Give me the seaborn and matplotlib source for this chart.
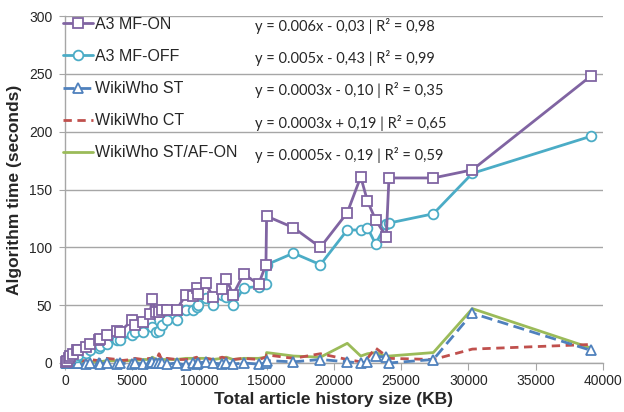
import matplotlib
matplotlib.use("Agg")
import matplotlib.pyplot as plt
import seaborn as sns
import pandas as pd

# shared x values: total article history size (KB)
size_kb = [50, 150, 300, 400, 600, 900, 1000, 1600, 1900, 2500, 2600, 3100, 3900, 4100,
           5000, 5200, 5800, 6300, 6500, 6800, 7000, 7200, 7600, 8300, 9000, 9500, 9800,
           9900, 10500, 11000, 11700, 12000, 12500, 13300, 14400, 14950, 15000, 17000,
           19000, 21000, 22000, 22500, 23100, 23900, 24100, 27400, 30300, 39100]

a3_mf_on = [1, 2, 4, 6, 8, 11, 11, 14, 16, 20, 21, 24, 28, 27,
            37, 33, 35, 42, 55, 44, 44, 46, 46, 46, 59, 58, 65,
            60, 69, 57, 64, 73, 59, 77, 68, 85, 127, 117,
            100, 130, 161, 140, 124, 109, 160, 160, 167, 248]

a3_mf_off = [1, 2, 3, 4, 5, 5, 7, 9, 11, 13, 15, 16, 20, 20,
             24, 27, 27, 35, 31, 27, 28, 33, 37, 37, 46, 46, 48,
             50, 56, 50, 59, 57, 50, 65, 66, 68, 85, 95,
             85, 115, 115, 117, 103, 120, 121, 129, 164, 196]

wikiwho_st = [0, 0, 0, 0, 0, 0, 0, -1, 0, 0, -1, 0, -1, 0,
              -1, 0, -1, 0, 1, 0, 0, 0, -1, 0, -2, 0, -1,
              0, 1, 0, -1, 0, -1, 0, -1, 0, 2, 1,
              3, 1, 0, 1, 6, 5, 0, 3, 43, 11]

wikiwho_ct = [0.5, 0.5, 1, 1, 1, 1.5, 2, 2, 3, 2, 3, 4, 3, 2,
              3, 4, 3, 4, 3, 2, 8, 3, 4, 3, 3, 4, 5,
              3, 4, 3, 5, 4, 3, 4, 3, 5, 7, 4,
              8, 3, 1, 4, 13, 6, 4, 3, 12, 16]

wikiwho_st_af = [0.3, 0.3, 0.5, 0.5, 1, 1, 1, 1, 1, 1, 1, 2, 2, 2,
                 2, 2, 3, 3, 5, 3, 3, 3, 3, 3, 4, 4, 4,
                 4, 4, 3, 4, 5, 3, 4, 4, 5, 9, 6,
                 5, 17, 6, 8, 9, 6, 6, 9, 47, 13]

labels = ["A3 MF-ON", "A3 MF-OFF", "WikiWho ST", "WikiWho CT", "WikiWho ST/AF-ON"]
equations = ["y = 0.006x - 0,03 | R\u00b2 = 0,98",
             "y = 0.005x - 0,43 | R\u00b2 = 0,99",
             "y = 0.0003x - 0,10 | R\u00b2 = 0,35",
             "y = 0.0003x + 0,19 | R\u00b2 = 0,65",
             "y = 0.0005x - 0,19 | R\u00b2 = 0,59"]

df = pd.DataFrame({"size": size_kb, labels[0]: a3_mf_on, labels[1]: a3_mf_off,
                   labels[2]: wikiwho_st, labels[3]: wikiwho_ct, labels[4]: wikiwho_st_af})

sns.set_style("white")
plt.rcParams['font.family'] = ['Liberation Sans', 'DejaVu Sans']

fig = plt.figure(figsize=(6.24, 4.12), dpi=100)
ax = fig.add_axes([0.104, 0.119, 0.862, 0.842])

styles = [
    dict(color="#8064A2", marker="s", ls="-", ms=7),
    dict(color="#4BACC6", marker="o", ls="-", ms=7),
    dict(color="#4F81BD", marker="^", ls=(0, (4, 2)), ms=7),
    dict(color="#C0504D", marker=None, ls=(0, (3, 2)), ms=0),
    dict(color="#9BBB59", marker=None, ls="-", ms=0),
]
draw_order = [4, 3, 2, 1, 0]
for i in draw_order:
    st = styles[i]
    sns.lineplot(data=df, x="size", y=labels[i], ax=ax, estimator=None, sort=False,
                 color=st["color"], linestyle=st["ls"], linewidth=2,
                 marker=st["marker"], markersize=st["ms"], markerfacecolor="white",
                 markeredgecolor=st["color"], markeredgewidth=1.3, label=labels[i],
                 clip_on=False, zorder=3 + (4 - i))

ax.set_xlim(0, 40000)
ax.set_ylim(0, 300)
ax.set_xticks(range(0, 40001, 5000))
ax.set_yticks(range(0, 301, 50))
ax.yaxis.grid(True, color="#a6a6a6", linewidth=1)
ax.xaxis.grid(False)
for s in ["top", "right"]:
    ax.spines[s].set_visible(False)
for s in ["left", "bottom"]:
    ax.spines[s].set_color("#a6a6a6")
    ax.spines[s].set_linewidth(1)
ax.tick_params(axis="x", which="both", bottom=True, length=5, color="#a6a6a6",
               labelsize=10, pad=3)
ax.tick_params(axis="y", left=True, length=4, color="#a6a6a6", labelsize=10, pad=5)

ax.set_xlabel("Total article history size (KB)", fontsize=12.5, fontweight="bold", labelpad=3)
ax.set_ylabel("Algorithm time (seconds)", fontsize=12.5, fontweight="bold", labelpad=5)

handles, labs = ax.get_legend_handles_labels()
order = [labs.index(l) for l in labels]
leg = ax.legend([handles[k] for k in order], labels, loc="upper left",
                bbox_to_anchor=(-0.022, 1.025), frameon=False, fontsize=11.5,
                handlelength=1.9, handletextpad=0.15, labelspacing=1.07,
                borderaxespad=0.2)

for k, eq in enumerate(equations):
    fig.text(255 / 624, 1 - (26 + k * 32.2) / 412, eq, fontsize=10.5, va="center",
             family=["Lato", "DejaVu Sans"])

fig.savefig("out.png", dpi=100)
